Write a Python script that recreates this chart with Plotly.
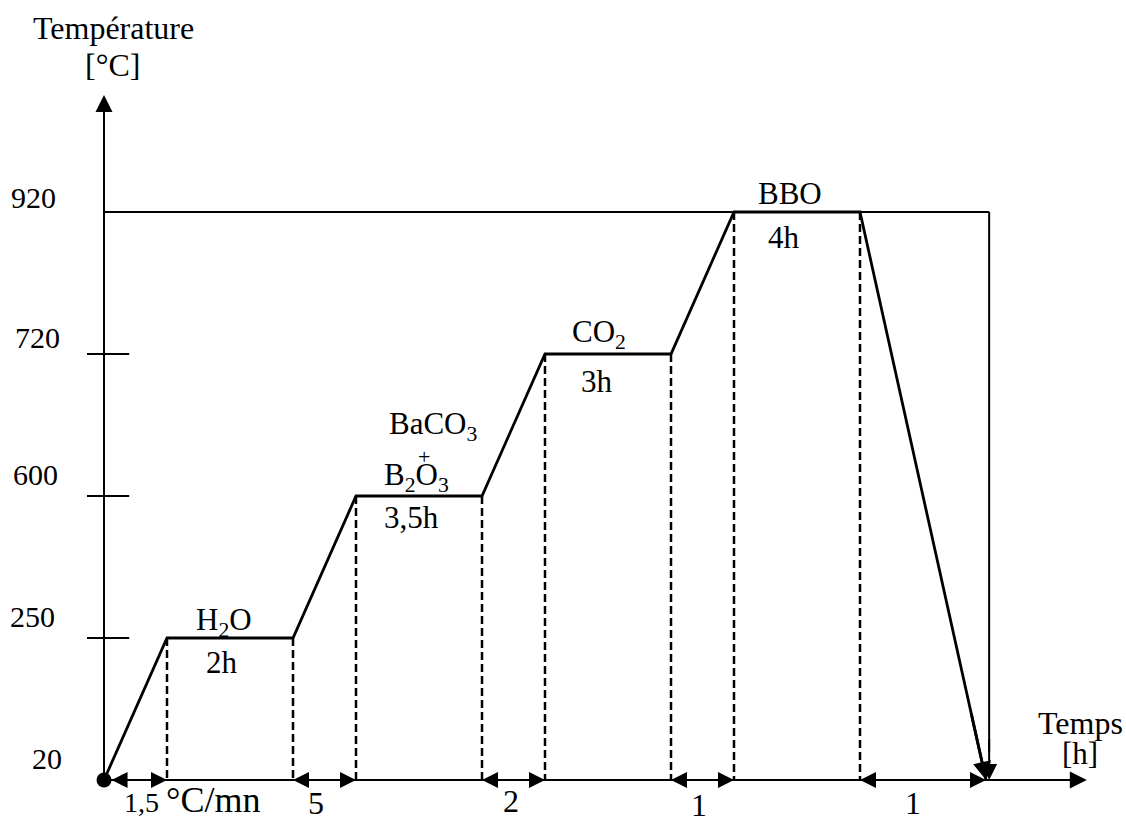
import plotly.graph_objects as go

# ---------------- data ----------------
temps = [20, 250, 600, 720, 920]                 # temperature levels (°C), tick labels
temp_labels = ["20", "250", "600", "720", "920"]
# schematic time units (ramp = 1 unit, plateau = 2 units)
profile_t = [0, 1, 3, 4, 6, 7, 9, 10, 12, 14]
profile_T = [20, 250, 250, 600, 600, 720, 720, 920, 920, 20]
plateau_top = ["H<sub>2</sub>O", "B<sub>2</sub>O<sub>3</sub>", "CO<sub>2</sub>", "BBO"]
plateau_dur = ["2h", "3,5h", "3h", "4h"]
extra_top = "BaCO<sub>3</sub>"
ramp_labels = ["1,5 <span style='font-size:36px'>°C/mn</span>", "5", "2", "1", "1"]
x_title = ["Temps", "[h]"]
y_title = ["Température", "[°C]"]

# ---------------- geometry helpers ----------------
PXU = 63.0     # px per time unit
PXL = 142.0    # px per temperature level
W, H = 1126, 818
X0 = -104 / PXU
X1 = X0 + W / PXU
Y1 = 780 / PXL
Y0 = Y1 - H / PXL

lvl = {T: i for i, T in enumerate(temps)}
py = [lvl[T] for T in profile_T]

FONT = "Liberation Serif, Times New Roman, serif"
BLACK = "black"

fig = go.Figure()

shapes = []
annos = []

def arrow(x, y, ax, ay, size=1.6, width=2):
    annos.append(dict(x=x, y=y, ax=ax, ay=ay, xref="x", yref="y", axref="x", ayref="y",
                      text="", showarrow=True, arrowhead=2, arrowsize=size, arrowwidth=width,
                      arrowcolor=BLACK, font=dict(size=1)))

# axes with arrows
y_top = 4.824
x_end = 15.6
arrow(0, y_top, 0, 0, size=1.7)
arrow(x_end, 0, 0, 0, size=1.7)

# ticks at intermediate levels
for i in range(1, len(temps) - 1):
    shapes.append(dict(type="line", xref="x", yref="y", x0=-0.27, x1=0.40, y0=i, y1=i,
                       line=dict(color=BLACK, width=2)))

# top frame: horizontal line at max temp and vertical drop with arrow
top = lvl[max(temps)]
xv = profile_t[-1] + 0.05
shapes.append(dict(type="line", xref="x", yref="y", x0=0, x1=xv, y0=top, y1=top,
                   line=dict(color=BLACK, width=2)))
shapes.append(dict(type="line", xref="x", yref="y", x0=xv, x1=xv, y0=top, y1=0.2,
                   line=dict(color=BLACK, width=2)))
arrow(xv, 0, xv, 0.3, size=1.6)

# dashed verticals at breakpoints
for t, l in zip(profile_t[1:-1], py[1:-1]):
    shapes.append(dict(type="line", xref="x", yref="y", x0=t, x1=t, y0=l, y1=0,
                       line=dict(color=BLACK, width=2.5, dash="8px,4px")))

# profile curve
fig.add_trace(go.Scatter(x=profile_t, y=py, mode="lines",
                         line=dict(color=BLACK, width=2.8), hoverinfo="skip"))
# arrow head at the end of cooling
fr = 0.12
arrow(profile_t[-1], py[-1],
      profile_t[-1] - fr * (profile_t[-1] - profile_t[-2]),
      py[-1] - fr * (py[-1] - py[-2]), size=1.3, width=2.8)
# origin dot
fig.add_trace(go.Scatter(x=[profile_t[0]], y=[py[0]], mode="markers",
                         marker=dict(color=BLACK, size=15), hoverinfo="skip"))

# double arrows below each ramp
ramps = [(profile_t[i], profile_t[i + 1]) for i in range(len(profile_t) - 1)
         if profile_T[i] != profile_T[i + 1]]
for k, (a, b) in enumerate(ramps):
    m = (a + b) / 2
    aa = a + 0.12 if k == 0 else a
    arrow(aa, 0, m, 0, size=1.6)
    arrow(b, 0, m, 0, size=1.6)

def txt(x, y, s, dx=0, dy=0, size=29):
    annos.append(dict(x=x, y=y, xref="x", yref="y", text=s, showarrow=False,
                      xshift=dx, yshift=dy, xanchor="center", yanchor="middle",
                      font=dict(family=FONT, size=size, color=BLACK)))

# tick labels
lab_dx = [-57, -72, -69, -67, -71]
lab_dy = [22, 22, 22, 17, 15]
for i, s in enumerate(temp_labels):
    txt(0, i, s, lab_dx[i], lab_dy[i], size=30)

# axis titles
txt(0, y_top, y_title[0], 9, 67, size=32)
txt(0, y_top, y_title[1], 8, 30, size=32)
txt(x_end, 0, x_title[0], -6, 57, size=32)
txt(x_end, 0, x_title[1], -7, 27, size=31)

# plateau labels
plateaus = [(profile_t[i], profile_t[i + 1], py[i]) for i in range(len(profile_t) - 1)
            if profile_T[i] == profile_T[i + 1]]
top_dx = [-6, -3, -9, -7]
dur_dx = [-8, -8, -11, -13]
top_dy = [16, 19, 20, 19]
dur_dy = [-24, -21, -27, -25]
for k, (a, b, l) in enumerate(plateaus):
    m = (a + b) / 2
    txt(m, l, plateau_top[k], top_dx[k], top_dy[k], size=31)
    txt(m, l, plateau_dur[k], dur_dx[k], dur_dy[k], size=31)
# BaCO3 + B2O3
a, b, l = plateaus[1]
m = (a + b) / 2
txt(m, l, extra_top, 14, 70, size=31)
txt(m, l, "+", 5, 40, size=22)

# ramp labels
ramp_dx = [56, -9, -3, -4, -10]
ramp_dy = [-20, -23, -21, -25, -23]
for k, (a, b) in enumerate(ramps):
    m = (a + b) / 2
    txt(m, 0, ramp_labels[k], ramp_dx[k], ramp_dy[k], size=28 if k == 0 else 32)

fig.update_layout(
    width=W, height=H, margin=dict(l=0, r=0, t=0, b=0),
    paper_bgcolor="white", plot_bgcolor="white", showlegend=False,
    xaxis=dict(range=[X0, X1], visible=False, fixedrange=True),
    yaxis=dict(range=[Y0, Y1], visible=False, fixedrange=True),
    shapes=shapes, annotations=annos,
)

fig.write_html("out.html", config={"displayModeBar": False},
               post_script="document.body.style.margin='0';")
